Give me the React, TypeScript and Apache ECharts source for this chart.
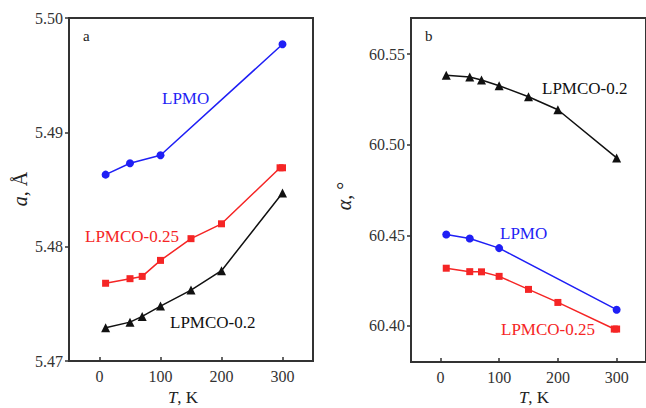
import React, { useEffect, useRef } from "react";
import * as echarts from "echarts";

// Panel a: lattice parameter a (Å) vs T (K)
const T_LPMO = [10, 50, 100, 300];
const A_LPMO = [5.4863, 5.4873, 5.4880, 5.4977];
const T_025 = [10, 50, 70, 100, 150, 200, 296, 300];
const A_025 = [5.4768, 5.4772, 5.4774, 5.4788, 5.4807, 5.4820, 5.4869, 5.4869];
const T_02 = [10, 50, 70, 100, 150, 200, 300];
const A_02 = [5.4729, 5.4734, 5.4739, 5.4748, 5.4762, 5.4779, 5.4847];

// Panel b: angle alpha (°) vs T (K)
const B_LPMO = [60.4504, 60.4482, 60.4429, 60.4089];
const B_025 = [60.4318, 60.4299, 60.4298, 60.4273, 60.4201, 60.4129, 60.3982, 60.3982];
const B_02 = [60.5384, 60.5374, 60.5358, 60.5326, 60.5265, 60.5193, 60.4927];

const X_TICKS = [0, 100, 200, 300];
const A_TICKS = [5.47, 5.48, 5.49, 5.5];
const B_TICKS = [60.4, 60.45, 60.5, 60.55];

const pairs = (xs: number[], ys: number[]) => xs.map((x, i) => [x, ys[i]]);

const FONT = "Liberation Serif";
const AX = "#333";
const BLUE = "#1f1ff5";
const RED = "#f52525";
const BLACK = "#111";

export default function App() {
  const ref = useRef<HTMLDivElement>(null);
  useEffect(() => {
    if (!ref.current) return;
    const chart = echarts.init(ref.current, undefined, { renderer: "svg" });
    const xAxisBase = (gridIndex: number) => ({
      type: "value" as const,
      gridIndex,
      min: -50,
      max: 350,
      axisLine: { show: true, onZero: false, lineStyle: { color: AX, width: 2 } },
      axisTick: { show: true, inside: true, length: 4, customValues: X_TICKS, lineStyle: { color: AX, width: 1.5 } },
      axisLabel: { customValues: X_TICKS, color: AX, fontFamily: FONT, fontSize: 16, margin: 7 },
      splitLine: { show: false },
    });
    const yAxisBase = (gridIndex: number, min: number, max: number, ticks: number[]) => ({
      type: "value" as const,
      gridIndex,
      min,
      max,
      axisLine: { show: true, onZero: false, lineStyle: { color: AX, width: 2 } },
      axisTick: { show: true, inside: false, length: 4, customValues: ticks, lineStyle: { color: AX, width: 1.5 } },
      axisLabel: {
        customValues: ticks,
        color: AX,
        fontFamily: FONT,
        fontSize: 16,
        margin: 6,
        formatter: (v: number) => v.toFixed(2),
      },
      splitLine: { show: false },
    });
    const line = (name: string, x: number, y: number, data: number[][], color: string, symbol: string, size: number) => ({
      type: "line" as const,
      name,
      xAxisIndex: x,
      yAxisIndex: y,
      data,
      symbol,
      symbolSize: size,
      lineStyle: { color, width: 1.5 },
      itemStyle: { color },
    });
    const txt = (text: string, x: number, y: number, color: string, size: number) => ({
      type: "text" as const,
      x,
      y,
      style: {
        text: `{n|${text}}`,
        fill: color,
        fontFamily: FONT,
        fontSize: size,
        align: "left",
        verticalAlign: "middle",
        rich: { n: { fontFamily: FONT, fontSize: size, fill: color } },
      },
    });
    const title = (text: string, x: number, y: number, rot: number, size: number) => ({
      type: "text" as const,
      x,
      y,
      rotation: rot,
      style: {
        text,
        fill: "#222",
        fontFamily: FONT,
        fontSize: size,
        align: "center",
        verticalAlign: "middle",
        rich: {
          i: { fontStyle: "italic", fontFamily: FONT, fontSize: size, fill: "#222" },
          n: { fontFamily: FONT, fontSize: size, fill: "#222" },
        },
      },
    });
    chart.setOption({
      animation: false,
      backgroundColor: "#fff",
      grid: [
        { left: 69, top: 18, width: 244, height: 343, show: true, borderColor: AX, borderWidth: 2 },
        { left: 411, top: 18, width: 242, height: 344, show: true, borderColor: AX, borderWidth: 2 },
      ],
      xAxis: [xAxisBase(0), xAxisBase(1)],
      yAxis: [yAxisBase(0, 5.47, 5.5, A_TICKS), yAxisBase(1, 60.38, 60.57, B_TICKS)],
      series: [
        line("LPMO", 0, 0, pairs(T_LPMO, A_LPMO), BLUE, "circle", 8),
        line("LPMCO-0.25", 0, 0, pairs(T_025, A_025), RED, "rect", 7),
        line("LPMCO-0.2", 0, 0, pairs(T_02, A_02), BLACK, "triangle", 9),
        line("LPMO", 1, 1, pairs(T_LPMO, B_LPMO), BLUE, "circle", 8),
        line("LPMCO-0.25", 1, 1, pairs(T_025, B_025), RED, "rect", 7),
        line("LPMCO-0.2", 1, 1, pairs(T_02, B_02), BLACK, "triangle", 9),
      ],
      graphic: [
        txt("a", 83, 36, "#222", 15),
        txt("LPMO", 162, 98, BLUE, 17),
        txt("LPMCO-0.25", 85, 236, RED, 17),
        txt("LPMCO-0.2", 170, 322, BLACK, 17),
        txt("b", 425, 36, "#222", 15),
        txt("LPMCO-0.2", 542, 88, BLACK, 17),
        txt("LPMO", 500, 233, BLUE, 17),
        txt("LPMCO-0.25", 501, 329, RED, 17),
        title("{i|a}{n|, Å}", 20, 189, Math.PI / 2, 20),
        title("{i|α}{n|, °}", 344, 196, Math.PI / 2, 20),
        title("{i|T}{n|, K}", 183, 397, 0, 17),
        title("{i|T}{n|, K}", 534, 397, 0, 17),
      ],
    });
    return () => chart.dispose();
  }, []);
  return <div ref={ref} style={{ width: 646, height: 408, position: "absolute", left: 0, top: 0 }} />;
}
